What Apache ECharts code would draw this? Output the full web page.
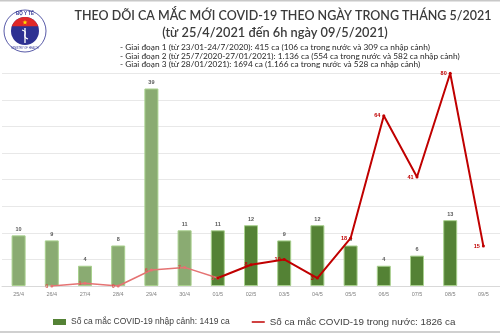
<!DOCTYPE html>
<html><head><meta charset="utf-8">
<script src="https://cdn.jsdelivr.net/npm/echarts@6/dist/echarts.min.js"></script>
<style>html,body{margin:0;padding:0;background:#fff}#c{width:500px;height:333px}</style>
</head><body><div id="c"></div>
<script>
const categories = ['25/4','26/4','27/4','28/4','29/4','30/4','01/5','02/5','03/5','04/5','05/5','06/5','07/5','08/5','09/5'];
const importedCases = [10, 9, 4, 8, 39, 11, 11, 12, 9, 12, 8, 4, 6, 13, '-'];
const domesticCases = ['-', 0, 1, 0, 6, 7, 3, 8, 10, 3, 18, 64, 41, 80, 15];
const fadedUntil = 5;      // last category drawn in faded colours (bars)
const lineFadedUntil = 6;  // last point of the faded line segment
const titleLine1 = 'THEO DÕI CA MẮC MỚI COVID-19 THEO NGÀY TRONG THÁNG 5/2021';
const titleLine2 = '(từ 25/4/2021 đến 6h ngày 09/5/2021)';
const notes = [
  '- Giai đoạn 1 (từ 23/01-24/7/2020): 415 ca (106 ca trong nước và 309 ca nhập cảnh)',
  '- Giai đoạn 2 (từ 25/7/2020-27/01/2021): 1.136 ca (554 ca trong nước và 582 ca nhập cảnh)',
  '- Giai đoạn 3 (từ 28/01/2021): 1694 ca (1.166 ca trong nước và 528 ca nhập cảnh)'
];
const barName = 'Số ca mắc COVID-19 nhập cảnh: 1419 ca';
const lineName = 'Số ca mắc COVID-19 trong nước: 1826 ca';

const chart = echarts.init(document.getElementById('c'), null, {renderer:'canvas'});

const barData = importedCases.map((v,i) => ({
  value: v,
  itemStyle: { color: i <= fadedUntil ? '#8aab72' : '#548235' }
}));
const lineLight = domesticCases.map((v,i) => i <= lineFadedUntil ? v : '-');
const lineDark = domesticCases.map((v,i) => i >= lineFadedUntil ? v : '-');

// logo decoration
const cx = 25, cy = 31;
const seg = [];
for (let a = 200; a <= 340; a += 5) {
  const r = a * Math.PI / 180;
  seg.push([Math.cos(r) * 14, Math.sin(r) * 14]);
}
const star = [];
for (let k = 0; k < 10; k++) {
  const r = (k % 2 ? 1.1 : 2.6), ang = -Math.PI/2 + k * Math.PI / 5;
  star.push([Math.cos(ang) * r, -8.5 + Math.sin(ang) * r]);
}

const font = 'Liberation Sans, Arial, sans-serif';

chart.setOption({
  animation: false,
  grid: { left: 2, right: 0, top: 73.3, bottom: 47, containLabel: false },
  xAxis: {
    type: 'category', data: categories,
    axisLine: { lineStyle: { color: '#d9d9d9' } },
    axisTick: { show: false },
    axisLabel: { fontSize: 5.5, color: '#808080', margin: 5, fontFamily: font, interval: 0 }
  },
  yAxis: [
    { type: 'value', min: 0, max: 80, interval: 10, show: true,
      axisLabel: { show: false }, axisLine: { show: false }, axisTick: { show: false },
      splitLine: { lineStyle: { color: '#e8e8e8', width: 1 } } },
    { type: 'value', min: 0, max: 42, show: false, splitLine: { show: false } }
  ],
  legend: {
    bottom: 1, left: 48, width: 450, itemGap: 22, itemWidth: 13, itemHeight: 6,
    textStyle: { fontSize: 8.5, color: '#404040', fontFamily: font },
    data: [
      { name: barName, icon: 'rect', itemStyle: { color: '#548235', borderWidth: 0 },
        textStyle: { fontSize: 8.5 } },
      { name: lineName, icon: 'path://M0,0h14v1.6h-14z', itemStyle: { color: '#c00000' },
        textStyle: { fontSize: 9.8 } }
    ]
  },
  series: [
    { name: barName, type: 'bar', yAxisIndex: 1, data: barData, barWidth: 14,
      itemStyle: { borderColor: '#a9d18e', borderWidth: 1 },
      label: { show: true, position: 'top', distance: 3, fontSize: 5.5, fontWeight: 'bold',
               color: '#595959', fontFamily: font } },
    { name: 'faded', type: 'line', yAxisIndex: 0, data: lineLight,
      symbol: 'circle', symbolSize: 3, showSymbol: true,
      lineStyle: { color: '#e57373', width: 1.5 }, itemStyle: { color: '#e57373' },
      label: { show: true, position: 'left', distance: 2, fontSize: 5.5, fontWeight: 'bold',
               color: '#d9534f', fontFamily: font } },
    { name: lineName, type: 'line', yAxisIndex: 0, data: lineDark,
      symbol: 'circle', symbolSize: 3, showSymbol: true,
      lineStyle: { color: '#c00000', width: 2 }, itemStyle: { color: '#c00000' },
      label: { show: true, position: 'left', distance: 2, fontSize: 5.5, fontWeight: 'bold',
               color: '#c00000', fontFamily: font,
               formatter: p => p.dataIndex <= lineFadedUntil ? '' : p.value } }
  ],
  graphic: [
    { type: 'rect', left: 0, top: 0, shape: { width: 500, height: 1.5 }, style: { fill: '#c8c8c8' }, silent: true },
    { type: 'rect', left: 0, top: 331, shape: { width: 500, height: 2 }, style: { fill: '#d0d0d0' }, silent: true },
    { type: 'group', x: cx, y: cy, children: [
      { type: 'circle', shape: { r: 21 }, style: { fill: '#fff', stroke: '#2e3192', lineWidth: 0.8 } },
      { type: 'circle', shape: { r: 14 }, style: { fill: '#2e3192' } },
      { type: 'polygon', shape: { points: seg }, style: { fill: '#e02828' } },
      { type: 'polygon', shape: { points: star }, style: { fill: '#ffde00' } },
      { type: 'line', shape: { x1: 0, y1: -3, x2: 0, y2: 12 }, style: { stroke: '#fff', lineWidth: 1.3 } },
      { type: 'bezierCurve', shape: { x1: -3, y1: -1, cpx1: 5, cpy1: 1, cpx2: -5, cpy2: 5, x2: 3, y2: 8 },
        style: { stroke: '#fff', lineWidth: 1.2, fill: null } },
      { type: 'text', x: 0, y: -17.5, style: { text: 'BỘ Y TẾ', fontSize: 4.5, fontWeight: 'bold', fill: '#2e3192',
        align: 'center', verticalAlign: 'middle', fontFamily: font } },
      { type: 'text', x: 0, y: 17.5, style: { text: 'MINISTRY OF HEALTH', fontSize: 2.6, fill: '#2e3192',
        align: 'center', verticalAlign: 'middle', fontFamily: font } }
    ]},
    { type: 'text', x: 283, y: 16, style: { text: titleLine1, fontSize: 12.5, fontWeight: 600, fill: '#3b3b3b',
      align: 'center', verticalAlign: 'middle', fontFamily: 'Lato, sans-serif' } },
    { type: 'text', x: 275, y: 33, style: { text: titleLine2, fontSize: 12.8, fontWeight: 600, fill: '#3b3b3b',
      align: 'center', verticalAlign: 'middle', fontFamily: 'Lato, sans-serif' } },
    { type: 'text', x: 120, y: 43.5, style: { text: notes.join('\n'), fontSize: 8.3, lineHeight: 8.5, fill: '#262626',
      align: 'left', verticalAlign: 'top', fontFamily: 'Lato, sans-serif' } }
  ]
});
</script></body></html>
